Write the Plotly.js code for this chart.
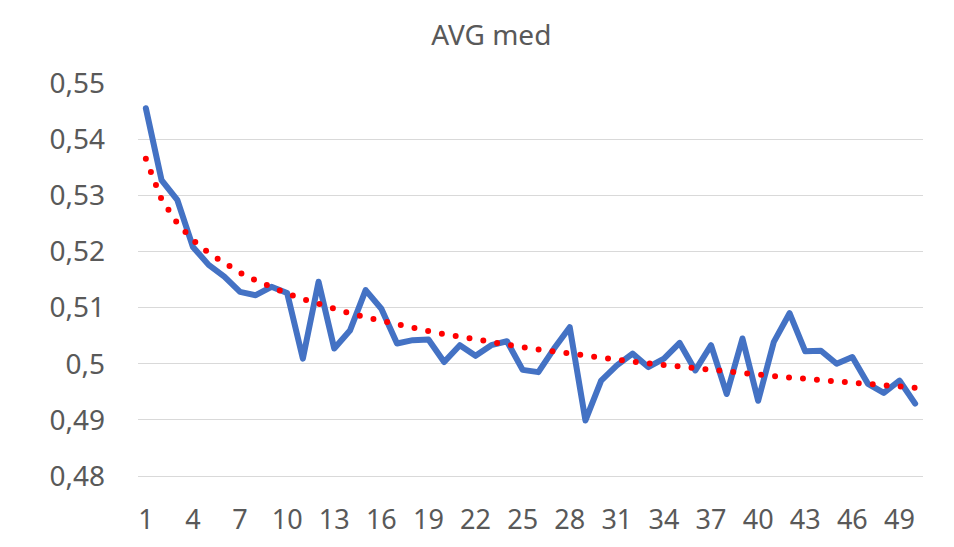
<!DOCTYPE html>
<html>
<head>
<meta charset="utf-8">
<script src="https://cdn.plot.ly/plotly-3.0.1.min.js"></script>
<style>
html,body{margin:0;padding:0;background:#fff;}
#chart{width:954px;height:547px;}
.scatterlayer .js-line{stroke-linecap:round;stroke-linejoin:round;}
</style>
</head>
<body>
<div id="chart"></div>
<script>
// Categories (1..50)
const xValues = [1,2,3,4,5,6,7,8,9,10,11,12,13,14,15,16,17,18,19,20,21,22,23,24,25,26,27,28,29,30,31,32,33,34,35,36,37,38,39,40,41,42,43,44,45,46,47,48,49,50];
// AVG med series
const avgMed = [0.5455,0.5327,0.5292,0.5208,0.5176,0.5155,0.5128,0.5122,0.5137,0.5126,
                0.5009,0.5146,0.5027,0.5059,0.5131,0.5098,0.5036,0.5042,0.5043,0.5003,
                0.5033,0.5014,0.5033,0.5040,0.4989,0.4985,0.5027,0.5065,0.4899,0.4970,
                0.4997,0.5018,0.4994,0.5009,0.5037,0.4988,0.5033,0.4946,0.5045,0.4934,
                0.5039,0.5090,0.5022,0.5023,0.5000,0.5012,0.4964,0.4948,0.4970,0.4929];
// Tick labels
const xTickVals = [1,4,7,10,13,16,19,22,25,28,31,34,37,40,43,46,49];
const xTickText = ["1","4","7","10","13","16","19","22","25","28","31","34","37","40","43","46","49"];
const yTickVals = [0.48,0.49,0.50,0.51,0.52,0.53,0.54,0.55];
const yTickText = ["0,48","0,49","0,5","0,51","0,52","0,53","0,54","0,55"];
const chartTitle = "AVG med";

// Logarithmic trendline (least squares on ln(x)), as the spreadsheet computes it
function logFit(xs, ys){
  const n = xs.length;
  let sl=0, sy=0, sll=0, sly=0;
  for(let i=0;i<n;i++){ const l=Math.log(xs[i]); sl+=l; sy+=ys[i]; sll+=l*l; sly+=l*ys[i]; }
  const b=(n*sly - sl*sy)/(n*sll - sl*sl);
  const a=(sy - b*sl)/n;
  return xs.map(x=>a+b*Math.log(x));
}
const trend = logFit(xValues, avgMed);

const font = "'Noto Sans', 'Open Sans', sans-serif";
const traces = [
  {x: xValues, y: avgMed, type:'scatter', mode:'lines',
   line:{color:'#4472C4', width:6}, hoverinfo:'skip'},
  {x: xValues, y: trend, type:'scatter', mode:'lines',
   line:{color:'#FF0000', width:6, dash:'0px,14px'}, hoverinfo:'skip'}
];
const layout = {
  width:954, height:547,
  paper_bgcolor:'#ffffff', plot_bgcolor:'#ffffff',
  margin:{l:138, r:31, t:83, b:71},
  showlegend:false,
  title:{text:chartTitle, x:0.515, xref:'container', xanchor:'center', y:0.935, yref:'container', yanchor:'middle',
         font:{family:font, size:28, color:'#595959'}},
  xaxis:{range:[0.5,50.5], tickmode:'array', tickvals:xTickVals, ticktext:xTickText,
         showgrid:false, zeroline:false, showline:true, linecolor:'#d9d9d9', linewidth:1,
         ticks:'', ticklabelstandoff:20, tickfont:{family:font, size:27, color:'#595959'}},
  yaxis:{range:[0.48,0.55], tickmode:'array', tickvals:yTickVals, ticktext:yTickText,
         showgrid:true, gridcolor:'#d9d9d9', gridwidth:1, zeroline:false, showline:false,
         ticks:'', ticklabelstandoff:32, tickfont:{family:font, size:28, color:'#595959'}}
};
Plotly.newPlot('chart', traces, layout, {staticPlot:true, displayModeBar:false});
</script>
</body>
</html>
